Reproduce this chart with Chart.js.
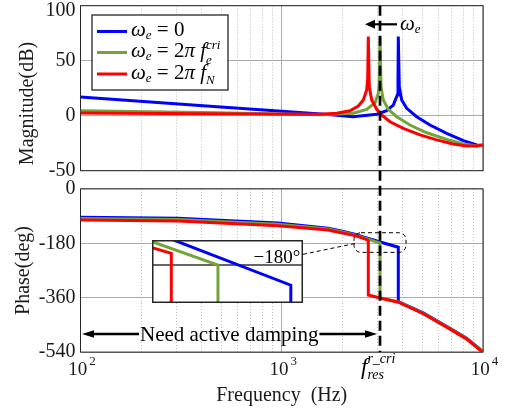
<!DOCTYPE html>
<html><head><meta charset="utf-8">
<script src="https://cdn.jsdelivr.net/npm/chart.js@4.4.1/dist/chart.umd.min.js"></script>
<style>
html,body{margin:0;padding:0;background:#fff;width:507px;height:415px;overflow:hidden;position:relative}
#mag,#pha{position:absolute;left:0;top:-20px}
#insetBox{position:absolute;background:#fff}
#inset{position:absolute;left:0;top:0}
</style></head><body>
<canvas id="mag" width="507" height="435"></canvas>
<canvas id="pha" width="507" height="435"></canvas>
<div id="insetBox"><canvas id="inset"></canvas></div>
<script>
// ---------------- data ----------------
const seriesLabels = ['ωe = 0', 'ωe = 2π fe^cri', 'ωe = 2π fN'];
const xMajorTicks = [100, 1000, 10000];
const xTickLabels = [['10', '2'], ['10', '3'], ['10', '4']];
const xMinorTicks = [200, 300, 400, 500, 600, 700, 800, 900, 2000, 3000, 4000, 5000, 6000, 7000, 8000, 9000];
const magTicks = [100, 50, 0, -50];
const phaseTicks = [0, -180, -360, -540];
const fCri = 3078;            // critical resonance frequency (dashed line), Hz

// Magnitude (dB)
const magBlueF = [100, 406, 1000, 1697, 2260, 2963, 3322, 3584, 3751, 3781, 3794, 3838, 3945, 4178, 4684, 5452, 6600, 7984, 9305, 10000];
const magBlue  = [17, 9.1, 4, 1.0, -0.9, 1.3, 4.5, 9.7, 18.8, 29.5, 72, 26.4, 14.3, 6.7, -0.9, -8.5, -16, -22.7, -26.6, -27.3];
const magGreenF = [100, 406, 1549, 2268, 2643, 2907, 3019, 3053, 3078, 3113, 3195, 3383, 3726, 4338, 5253, 6600, 7984, 9305, 10000];
const magGreen  = [4.5, 2.9, 0.8, 2.2, 5.8, 11.8, 20.4, 29.5, 72, 26.4, 14.3, 5.8, -0.9, -8.5, -15.5, -21.5, -25.7, -27.5, -26.6];
const magRedF = [100, 406, 1549, 1875, 2183, 2401, 2542, 2643, 2674, 2692, 2723, 2799, 2963, 3138, 3451, 4018, 4864, 5888, 7095, 8299, 9305, 10000];
const magRed  = [2.5, 1.8, 1.3, 2.2, 4.5, 8.8, 14.3, 23.4, 34, 72, 26, 14.3, 5.8, 0.6, -5.5, -11.5, -17.5, -22, -25.7, -27.5, -27.5, -26.5];

// Phase (deg)
const phBlueF = [100, 305, 958, 1697, 1948, 2304, 2643, 3053, 3794, 3794, 5051, 6855, 8299, 9661, 10000];
const phBlue  = [-94, -97, -113, -130, -138, -150, -162, -175, -193, -373, -410, -461, -494, -530, -539];
const phGreenF = [100, 305, 958, 1697, 1948, 2304, 2643, 3078, 3078, 3794, 5051, 6855, 8299, 9661, 10000];
const phGreen  = [-98, -101, -117, -133, -141, -152, -165, -179, -360, -374, -412, -462, -495, -531, -540];
const phRedF = [100, 305, 958, 1697, 1948, 2304, 2643, 2692, 2692, 3078, 3794, 5051, 6855, 8299, 9661, 10000];
const phRed  = [-103, -106, -122, -136, -144, -154, -168, -171, -351, -361, -375, -413, -464, -497, -533, -543];

// Inset (zoom of the phase near -180 deg)
const insetRange = [2547, 3929];
const insetBlueF = [2547, 3794, 3794];
const insetBlue  = [-166.7, -188, -200];
const insetGreenF = [2547, 3078, 3078];
const insetGreen  = [-170.7, -180, -200];
const insetRedF = [2547, 2692, 2692];
const insetRed  = [-173.1, -175.3, -200];
const insetRefF = [2547, 3929];
const insetRef  = [-180, -180];

// ---------------- styling ----------------
const FONT = '"Liberation Serif","Times New Roman",Times,serif';
const BLUE = '#0000FF', GREEN = '#74A338', RED = '#FF0000', INK = '#262626';
const GRID = '#ababab', MINOR = '#bcbcbc';
const DY = 20; // canvases start 20px above the page
const INSET = {left: 152, top: 240, w: 151, h: 63};

const pts = (xs, ys) => xs.map((x, i) => ({x, y: ys[i]}));
const line = (label, xs, ys, color, order, w) => ({label, data: pts(xs, ys), borderColor: color, backgroundColor: color,
  borderWidth: w || 3, pointRadius: 0, tension: 0, fill: false, order});

function box(chart) {
  const a = chart.chartArea, ctx = chart.ctx;
  ctx.save(); ctx.strokeStyle = INK; ctx.lineWidth = 1;
  ctx.strokeRect(a.left, a.top, a.right - a.left, a.bottom - a.top);
  ctx.restore();
}
function rich(ctx, x, y, segs, base) {
  let cx = x, lastStart = x;
  for (const s of segs) {
    const size = s.s ? Math.round(base * 0.62) : base;
    ctx.font = (s.it ? 'italic ' : '') + size + 'px ' + FONT;
    const sx = s.back ? lastStart : cx;
    ctx.fillText(s.t, sx, y + (s.dy || 0));
    const w = ctx.measureText(s.t).width;
    if (!s.back) { lastStart = sx; cx = sx + w; } else { cx = Math.max(cx, sx + w); }
  }
  return cx;
}
function arrow(ctx, x1, x2, y, head, half, lw) {
  const d = Math.sign(x2 - x1);
  ctx.lineWidth = lw;
  ctx.beginPath(); ctx.moveTo(x1, y); ctx.lineTo(x2 - d * head * 0.7, y); ctx.stroke();
  ctx.beginPath(); ctx.moveTo(x2, y); ctx.lineTo(x2 - d * head, y - half); ctx.lineTo(x2 - d * head, y + half); ctx.closePath(); ctx.fill();
}
function xScales(bottomH, title) {
  return {
    x: {type: 'logarithmic', position: 'bottom', min: 100, max: 10000,
      afterBuildTicks: s => { s.ticks = xMajorTicks.map(v => ({value: v, major: true})); },
      ticks: {display: false}, grid: {color: GRID, lineWidth: 1, drawTicks: false}, border: {display: false},
      title: title || {display: false},
      afterFit: s => { s.height = bottomH; }},
    xm: {type: 'logarithmic', position: 'bottom', min: 100, max: 10000,
      afterBuildTicks: s => { s.ticks = xMinorTicks.map(v => ({value: v})); },
      ticks: {display: false}, grid: {color: MINOR, lineWidth: 1, drawTicks: false}, border: {display: false, dash: [1, 2]},
      afterFit: s => { s.height = 0; }}
  };
}
// the top label of the magnitude axis sits below its tick in the reference; it is drawn by magDecor
function yScale(min, max, ticks, title, skipTop) {
  return {type: 'linear', position: 'left', min, max,
    afterBuildTicks: s => { s.ticks = ticks.map(v => ({value: v})); },
    ticks: {font: {family: FONT, size: 20}, color: '#1a1a1a', padding: 5,
      callback: v => (skipTop && v === max) ? '' : String(v)},
    grid: {color: GRID, lineWidth: 1, drawTicks: false}, border: {display: false},
    title: title || {display: false},
    afterFit: s => { s.width = 80.5; }};
}
const baseOpts = {responsive: false, animation: false, devicePixelRatio: 1,
  plugins: {legend: {display: false}, tooltip: {enabled: false}}};

// ---------------- magnitude chart ----------------
const legendRows = [
  {color: BLUE, y: 31.5, segs: [{t: 'ω', it: 1}, {t: 'e', it: 1, s: 1, dy: 3}, {t: ' = 0'}]},
  {color: GREEN, y: 52.5, segs: [{t: 'ω', it: 1}, {t: 'e', it: 1, s: 1, dy: 3}, {t: ' = 2'}, {t: 'π', it: 1}, {t: ' '}, {t: 'f', it: 1}, {t: 'e', it: 1, s: 1, dy: 6.5}, {t: 'cri', it: 1, s: 1, dy: -8.5, back: 1}]},
  {color: RED, y: 74, segs: [{t: 'ω', it: 1}, {t: 'e', it: 1, s: 1, dy: 3}, {t: ' = 2'}, {t: 'π', it: 1}, {t: ' '}, {t: 'f', it: 1}, {t: 'N', it: 1, s: 1, dy: 5}]}
];
const magDecor = {
  id: 'magDecor',
  beforeDatasetsDraw(chart) { box(chart); },
  afterDraw(chart) {
    const ctx = chart.ctx, x = chart.scales.x, y = chart.scales.y;
    ctx.save();
    ctx.fillStyle = '#1a1a1a';
    ctx.font = '20px ' + FONT; ctx.textAlign = 'right'; ctx.textBaseline = 'middle';
    ctx.fillText(String(magTicks[0]), y.right - 5, y.getPixelForValue(magTicks[0]) + 5.5);
    ctx.translate(28, 103.5 + DY); ctx.rotate(-Math.PI / 2);
    ctx.textAlign = 'center';
    ctx.fillText('Magnitude(dB)', 0, 0);
    ctx.restore();
    // legend
    ctx.save();
    ctx.fillStyle = '#fff'; ctx.fillRect(92, 15 + DY, 136, 75);
    ctx.strokeStyle = INK; ctx.lineWidth = 1.3; ctx.strokeRect(92, 15 + DY, 136, 75);
    ctx.textAlign = 'left'; ctx.textBaseline = 'alphabetic';
    legendRows.forEach(r => {
      ctx.strokeStyle = r.color; ctx.lineWidth = 3;
      ctx.beginPath(); ctx.moveTo(97, r.y + DY); ctx.lineTo(127, r.y + DY); ctx.stroke();
      ctx.fillStyle = '#000';
      rich(ctx, 131, r.y + DY + 4.5, r.segs, 21);
    });
    // omega_e arrow
    const xc = x.getPixelForValue(fCri);
    ctx.fillStyle = '#000'; ctx.strokeStyle = '#000';
    arrow(ctx, xc + 17, xc - 15, 24.3 + DY, 10, 4.5, 2.2);
    rich(ctx, 400, 30 + DY, [{t: 'ω', it: 1}, {t: 'e', it: 1, s: 1, dy: 3}], 21);
    ctx.restore();
  }
};
const magChart = new Chart(document.getElementById('mag'), {
  type: 'line',
  data: {datasets: [
    line(seriesLabels[0], magBlueF, magBlue, BLUE, 3),
    line(seriesLabels[1], magGreenF, magGreen, GREEN, 2),
    line(seriesLabels[2], magRedF, magRed, RED, 1)
  ]},
  options: Object.assign({}, baseOpts, {
    layout: {padding: {top: 25.7, bottom: 244.3, left: 0, right: 24}},
    scales: Object.assign(xScales(0), {y: yScale(-50, 100, magTicks, null, true)})
  }),
  plugins: [magDecor]
});

// ---------------- phase chart ----------------
const phaseDecor = {
  id: 'phaseDecor',
  beforeDatasetsDraw(chart) { box(chart); },
  afterDraw(chart) {
    const ctx = chart.ctx, x = chart.scales.x, y = chart.scales.y, a = chart.chartArea;
    const xc = x.getPixelForValue(fCri);
    ctx.save();
    // x tick labels 10^n
    ctx.fillStyle = '#1a1a1a'; ctx.textBaseline = 'alphabetic'; ctx.textAlign = 'left';
    xMajorTicks.forEach((v, i) => {
      const px = x.getPixelForValue(v);
      ctx.font = '19px ' + FONT; const w1 = ctx.measureText(xTickLabels[i][0]).width;
      ctx.font = '13px ' + FONT; const w2 = ctx.measureText(xTickLabels[i][1]).width;
      const x0 = px + 1.5 - (w1 + 2 + w2) / 2;
      ctx.font = '19px ' + FONT; ctx.fillText(xTickLabels[i][0], x0, 375 + DY);
      ctx.font = '13px ' + FONT; ctx.fillText(xTickLabels[i][1], x0 + w1 + 2, 365 + DY);
    });
    // f_res^{r_cri} label
    ctx.fillStyle = '#000';
    rich(ctx, xc - 19, 374 + DY, [{t: 'f', it: 1}, {t: 'res', it: 1, s: 1, dy: 4.5}, {t: 'r_cri', it: 1, s: 1, dy: -11, back: 1}], 23);
    // dashed rounded rectangle around the jumps + connector to inset
    const rx = x.getPixelForValue(2286), rx2 = x.getPixelForValue(4145);
    const ry = y.getPixelForValue(-145), ry2 = y.getPixelForValue(-210);
    const r = 7;
    ctx.strokeStyle = '#000'; ctx.lineWidth = 1; ctx.setLineDash([4, 3]);
    ctx.beginPath();
    ctx.moveTo(rx + r, ry); ctx.arcTo(rx2, ry, rx2, ry2, r); ctx.arcTo(rx2, ry2, rx, ry2, r);
    ctx.arcTo(rx, ry2, rx, ry, r); ctx.arcTo(rx, ry, rx2, ry, r); ctx.closePath(); ctx.stroke();
    ctx.beginPath(); ctx.moveTo(INSET.left + INSET.w, 254.3 + DY); ctx.lineTo(rx + 1, 243.5 + DY); ctx.stroke();
    // dashed critical frequency line through both panels
    ctx.lineWidth = 2.7; ctx.setLineDash([10, 5]);
    ctx.beginPath(); ctx.moveTo(xc, magChart.chartArea.top); ctx.lineTo(xc, a.bottom); ctx.stroke();
    ctx.setLineDash([]);
    // Need active damping arrow
    ctx.fillStyle = '#000';
    ctx.font = '21px ' + FONT; ctx.textAlign = 'center';
    const tx = 229.2, tw = ctx.measureText('Need active damping').width;
    ctx.fillText('Need active damping', tx, 341.3 + DY);
    arrow(ctx, tx - tw / 2 - 1, x.getPixelForValue(100) + 1.5, 334 + DY, 12, 3.8, 2.3);
    arrow(ctx, tx + tw / 2 + 1, xc - 3, 334 + DY, 12, 3.8, 2.3);
    ctx.restore();
  }
};
const phaChart = new Chart(document.getElementById('pha'), {
  type: 'line',
  data: {datasets: [
    line(seriesLabels[0], phBlueF, phBlue, BLUE, 3),
    line(seriesLabels[1], phGreenF, phGreen, GREEN, 2),
    line(seriesLabels[2], phRedF, phRed, RED, 1)
  ]},
  options: Object.assign({}, baseOpts, {
    layout: {padding: {top: 208.9, bottom: 0, left: 0, right: 24}},
    scales: Object.assign(
      xScales(62.9, {display: true, text: 'Frequency  (Hz)', color: '#1a1a1a', font: {family: FONT, size: 20}, padding: {top: 0, bottom: 7}}),
      {y: yScale(-540, 0, phaseTicks, {display: true, text: 'Phase(deg)', color: '#1a1a1a', font: {family: FONT, size: 20}, padding: {top: 12, bottom: 0}})})
  }),
  plugins: [phaseDecor]
});

// ---------------- inset ----------------
const ib = document.getElementById('insetBox');
ib.style.left = INSET.left + 'px'; ib.style.top = INSET.top + 'px';
ib.style.width = INSET.w + 'px'; ib.style.height = INSET.h + 'px';
const ic = document.getElementById('inset');
ic.width = INSET.w; ic.height = INSET.h;
const insetDecor = {
  id: 'insetDecor',
  afterDraw(chart) {
    const ctx = chart.ctx;
    ctx.save();
    ctx.strokeStyle = INK; ctx.lineWidth = 1.5;
    ctx.strokeRect(0.75, 0.75, chart.width - 1.5, chart.height - 1.5);
    ctx.fillStyle = '#000'; ctx.font = '19px ' + FONT; ctx.textAlign = 'center'; ctx.textBaseline = 'alphabetic';
    ctx.fillText('−180°', 125, 23);
    ctx.restore();
  }
};
new Chart(ic, {
  type: 'line',
  data: {datasets: [
    line('-180', insetRefF, insetRef, '#333333', 4, 1.5),
    line(seriesLabels[0], insetBlueF, insetBlue, BLUE, 3),
    line(seriesLabels[1], insetGreenF, insetGreen, GREEN, 2),
    line(seriesLabels[2], insetRedF, insetRed, RED, 1)
  ]},
  options: Object.assign({}, baseOpts, {
    layout: {padding: 0},
    scales: {
      x: {type: 'logarithmic', min: insetRange[0], max: insetRange[1], display: false},
      y: {type: 'linear', min: -195.1, max: -170, display: false}
    }
  }),
  plugins: [insetDecor]
});
</script>
</body></html>
